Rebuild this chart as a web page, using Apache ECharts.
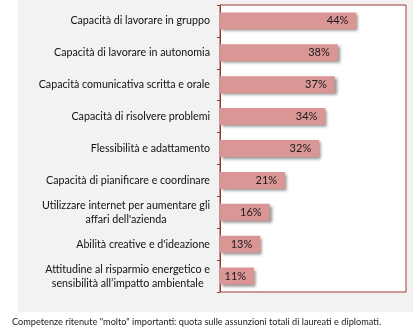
<!DOCTYPE html>
<html>
<head>
<meta charset="utf-8">
<script src="https://cdn.jsdelivr.net/npm/echarts@6/dist/echarts.min.js"></script>
<style>
html,body{margin:0;padding:0;background:#fff;}
#c{width:413px;height:332px;}
</style>
</head>
<body>
<div id="c"></div>
<script>
const categories = [
  "Capacità di lavorare in gruppo",
  "Capacità di lavorare in autonomia",
  "Capacità comunicativa scritta e orale",
  "Capacità di risolvere problemi",
  "Flessibilità e adattamento",
  "Capacità di pianificare e coordinare",
  "Utilizzare internet per aumentare gli\naffari dell'azienda",
  "Abilità creative e d'ideazione",
  "Attitudine al risparmio energetico e\nsensibilità all’impatto ambientale"
];
const values = [44, 38, 37, 34, 32, 21, 16, 13, 11];
const footnote = 'Competenze ritenute "molto" importanti: quota sulle assunzioni totali di laureati e diplomati.';

const FONT = 'Lato, "Open Sans", sans-serif';
const chart = echarts.init(document.getElementById('c'), null, {renderer: 'canvas'});
chart.setOption({
  animation: false,
  backgroundColor: '#ffffff',
  graphic: [
    {type: 'rect', left: 18, top: 0, shape: {width: 395, height: 312}, style: {fill: '#f2f2f2'}, z: -10, silent: true},
    {type: 'text', left: 12, top: 318, style: {text: footnote, font: '9.2px ' + FONT, fill: '#222'}}
  ],
  grid: {left: 220, right: 7, top: 5, bottom: 40, show: true, backgroundColor: '#ffffff', borderColor: '#9b3b39', borderWidth: 1},
  xAxis: {type: 'value', min: 0, max: 60, show: false},
  yAxis: {
    type: 'category',
    data: categories,
    inverse: true,
    axisLine: {show: true, lineStyle: {color: '#9b3b39', width: 1}},
    axisTick: {show: true, length: 3, lineStyle: {color: '#9b3b39'}},
    axisLabel: {
      margin: 10,
      color: '#111',
      fontFamily: FONT,
      fontSize: 10.7,
      lineHeight: 14,
      formatter: function (v) {
        return v.split('\n').map(function (l) { return '{c|' + l + '}'; }).join('\n');
      },
      rich: {c: {align: 'center', fontFamily: FONT, fontSize: 10.7, color: '#111', lineHeight: 14}}
    }
  },
  series: [{
    type: 'bar',
    data: values,
    barWidth: 17,
    itemStyle: {
      color: '#d99694',
      shadowColor: 'rgba(0,0,0,0.45)',
      shadowBlur: 3,
      shadowOffsetX: 2,
      shadowOffsetY: 2
    },
    label: {
      show: true,
      position: 'insideRight',
      distance: 8,
      formatter: '{c}%',
      color: '#1a1a1a',
      fontFamily: FONT,
      fontSize: 11
    }
  }]
});
</script>
</body>
</html>
